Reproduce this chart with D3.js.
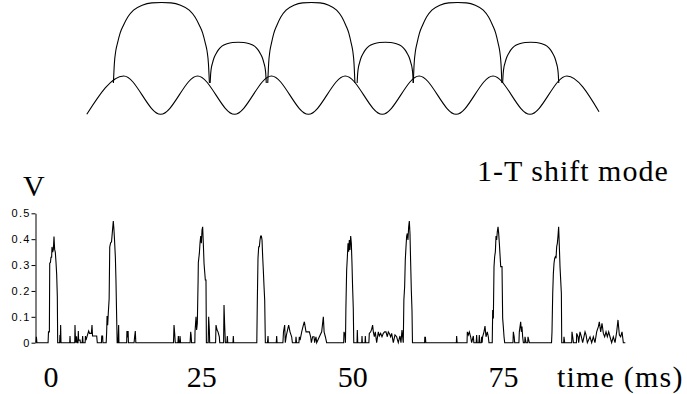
<!DOCTYPE html>
<html>
<head>
<meta charset="utf-8">
<script src="https://cdn.jsdelivr.net/npm/d3@7"></script>
<style>
  html, body { margin: 0; padding: 0; background: #fff; }
  svg { display: block; }
  .serif { font-family: "Liberation Serif", "Times New Roman", Times, "DejaVu Serif", serif; }
  .sans { font-family: "Liberation Sans", Arial, Helvetica, sans-serif; }
</style>
</head>
<body>
<div id="chart"></div>
<script>
// ---------------- DATA ----------------
// Top schematic: sinusoidal wave (in periods T) - extremes
const waveT = [0, 0.5, 1, 1.5, 2, 2.5, 3, 3.5, 4, 4.5, 5, 5.5, 6, 6.5, 6.935];
const waveV = [0, 1, 0, 1, 0, 1, 0, 1, 0, 1, 0, 1, 0, 1, 0.068];

// Top schematic: arcs (centre in T, half width in T, top height in wave units)
const arcCenters = [1.01, 2.05, 3.04, 4.04, 5.02, 6.01];
const arcHalfWidths = [0.65, 0.38, 0.59, 0.38, 0.60, 0.38];
const arcTops = [2.92, 1.88, 2.92, 1.88, 2.92, 1.88];
const arcBase = 0.817;
// arc profile: fraction of half width -> fraction of height
const arcProfileX = [0, 0.2, 0.4, 0.58, 0.7, 0.79, 0.86, 0.917, 0.95, 0.98, 1.0];
const arcProfileY = [1.0, 0.995, 0.965, 0.905, 0.82, 0.718, 0.62, 0.49, 0.40, 0.24, 0];

// Bottom: measured signal, time (ms) and voltage (V)
const sigT = [
 -3.04,-2.97,-2.88,-1.0,-0.93,-0.78,-0.72,-0.6,-0.51,-0.4,-0.34,-0.22,-0.11,0,0.11,0.22,0.34,0.45,0.56,0.62,
 0.95,1.0,1.06,1.12,1.18,
 2.65,2.7,2.75,
 3.5,3.54,3.6,3.7,3.8,3.9,4.05,4.1,4.15,4.4,4.45,
 4.75,4.83,4.9,
 5.25,5.3,5.4,5.6,5.85,6.0,6.3,6.41,6.5,7.2,7.3,
 8.0,8.05,8.2,8.25,
 8.8,8.88,8.95,9.05,9.15,9.3,9.4,9.55,9.7,9.85,10.0,10.1,10.2,10.35,10.45,10.57,10.65,
 10.8,10.85,10.9,10.95,
 12.25,12.3,12.4,12.5,12.55,
 13.5,13.6,13.71,13.8,
 20.15,20.24,20.35,20.45,
 20.9,20.97,21.05,21.2,21.25,21.35,
 22.95,23.05,23.12,23.2,
 23.75,23.78,23.95,24.05,24.17,24.3,24.34,24.51,24.62,24.74,24.85,24.96,25.07,25.18,25.3,25.41,25.52,25.63,25.7,
 26.0,26.08,26.2,26.25,
 27.25,27.32,27.5,27.66,27.88,27.95,
 28.6,28.67,28.78,28.9,
 29.15,29.23,29.3,
 30.18,30.24,30.3,
 34.2,34.29,34.4,34.52,34.63,34.74,34.85,34.97,35.08,35.19,35.3,35.42,35.53,35.64,
 36.0,36.09,36.15,
 37.48,37.55,37.62,
 38.6,38.7,38.9,39.0,39.2,39.57,39.8,40.08,40.2,
 40.75,40.81,40.9,
 41.3,41.37,41.5,41.77,42.05,42.22,42.5,42.8,43.06,43.28,43.4,43.62,43.85,43.95,44.18,44.3,44.75,45.14,45.42,45.55,45.76,45.98,
 48.85,48.9,49.07,49.15,49.22,49.35,49.46,49.58,49.69,49.8,49.91,50.03,50.14,50.25,50.36,50.47,50.55,
 51.1,51.15,51.22,
 51.9,51.94,52.0,
 52.45,52.5,52.56,
 53.1,53.17,53.4,53.57,53.73,53.85,54.02,54.18,54.41,54.69,54.86,55.08,55.31,55.53,55.76,55.98,56.21,56.38,56.55,56.77,56.94,57.22,57.5,57.78,58.06,58.34,58.51,58.68,58.79,58.9,
 59.0,59.13,59.24,59.36,59.47,59.58,59.69,59.81,59.92,60.03,60.14,60.26,60.37,60.45,
 62.5,62.53,62.6,62.63,62.7,
 67.85,67.9,67.98,
 69.65,69.7,69.87,70.04,70.26,70.43,70.71,70.8,
 71.2,71.27,71.35,
 71.65,71.72,71.8,72.05,72.12,72.2,72.28,72.51,72.68,72.85,73.07,73.24,73.35,
 73.9,73.98,74.09,74.2,74.31,74.43,74.54,74.65,74.76,74.88,74.99,75.1,75.33,75.55,75.66,75.77,75.89,76.0,
 77.4,77.46,77.6,77.69,
 78.4,78.47,78.7,78.81,78.92,79.03,79.15,
 79.38,79.43,79.6,
 79.88,79.93,80.16,
 83.9,83.98,84.1,84.21,84.32,84.43,84.54,84.66,84.77,84.88,84.99,85.1,85.22,85.33,85.56,85.62,
 85.95,86.0,86.12,
 87.3,87.35,87.47,87.6,
 88.1,88.14,88.37,88.48,88.7,88.93,89.15,89.55,89.72,89.94,
 90.39,90.67,90.95,91.23,91.51,91.8,91.96,92.19,92.41,92.64,92.86,93.09,93.31,93.54,93.76,94.04,94.32,94.61,94.89,95.11,95.34,95.56,95.79,96.01,96.35
];
const sigV = [
 0,0.023,0,0,0.042,0.042,0.307,0.31,0.33,0.33,0.37,0.35,0.36,0.41,0.36,0.35,0.31,0.265,0.18,0,
 0,0.03,0,0.068,0,
 0,0.026,0,
 0,0.068,0.025,0,0.025,0,0,0.045,0.01,0.01,0,
 0,0.026,0,
 0,0.026,0.01,0.026,0.045,0.036,0.036,0.068,0.026,0.026,0,
 0,0.026,0.026,0,
 0,0.042,0.103,0.068,0.113,0.17,0.37,0.386,0.39,0.43,0.47,0.44,0.40,0.33,0.24,0.094,0,
 0,0.036,0.068,0,
 0,0.045,0.02,0.045,0,
 0,0.023,0.045,0,
 0,0.068,0.036,0,
 0,0.026,0,0,0.026,0,
 0,0.042,0.03,0,
 0,0.042,0.1,0.049,0.075,0.24,0.31,0.345,0.384,0.412,0.384,0.435,0.448,0.384,0.307,0.274,0.242,0.242,0,
 0,0.1,0.049,0,
 0,0.068,0.049,0.042,0.023,0,
 0,0.146,0.068,0,
 0,0.026,0,
 0,0.026,0,
 0,0.165,0.326,0.371,0.371,0.397,0.412,0.412,0.397,0.332,0.28,0.216,0.165,0,
 0,0.026,0,
 0,0.026,0,
 0,0.042,0.068,0,0.03,0.068,0.042,0.023,0,
 0,0.023,0,
 0,0.023,0.01,0.042,0.068,0.081,0.042,0.042,0.042,0.023,0,0.023,0.023,0,0.023,0,0.023,0.042,0.1,0.042,0.023,0,
 0,0.042,0.03,0,0.126,0.28,0.326,0.384,0.352,0.397,0.358,0.412,0.384,0.307,0.21,0.133,0,
 0,0.049,0,
 0,0.026,0,
 0,0.026,0,
 0,0.036,0.042,0.052,0.068,0.042,0.023,0.042,0,0.042,0.026,0.036,0.023,0.036,0.042,0.042,0.023,0.042,0.036,0.023,0.036,0,0.03,0.023,0,0.026,0,0.049,0.023,0,
 0.165,0.216,0.32,0.371,0.412,0.422,0.397,0.448,0.47,0.422,0.313,0.2,0.126,0,
 0,0.023,0.015,0.023,0,
 0,0.026,0,
 0,0.042,0.03,0.042,0.023,0,0.026,0,
 0,0.03,0,
 0,0.03,0,0,0.023,0,0.023,0.042,0.064,0.023,0.042,0.023,0,
 0,0.126,0.094,0.294,0.332,0.352,0.412,0.397,0.429,0.448,0.422,0.384,0.294,0.294,0.094,0.062,0.023,0,
 0,0.042,0.023,0,
 0,0.042,0.081,0.042,0.062,0.023,0,
 0,0.023,0,
 0,0.023,0,
 0,0.042,0.19,0.268,0.307,0.326,0.332,0.326,0.371,0.384,0.412,0.448,0.371,0.294,0.19,0,
 0,0.023,0,
 0,0.042,0.023,0,
 0,0.036,0.023,0,0.042,0.023,0,0.042,0.03,0,
 0.023,0,0.023,0,0.042,0.062,0.081,0.042,0.075,0.036,0.023,0.042,0.023,0.042,0.023,0,0.023,0,0.042,0.088,0.03,0.023,0.042,0,0
];

const yTicks = [0, 0.1, 0.2, 0.3, 0.4, 0.5];
const xTicks = [0, 25, 50, 75];
const xTitle = "time (ms)";
const yTitle = "V";
const modeLabel = "1-T shift mode";

// ---------------- DRAW ----------------
const W = 687, H = 394;
const svg = d3.select("#chart").append("svg")
  .attr("width", W).attr("height", H)
  .attr("viewBox", `0 0 ${W} ${H}`);
svg.append("rect").attr("width", W).attr("height", H).attr("fill", "#fff");

// Top schematic scales
const tx = d3.scaleLinear().domain([0, 1]).range([86.8, 160.66]);
const ty = d3.scaleLinear().domain([0, 1]).range([114.3, 76]);

const wave = waveT.map((t, i) => [t, waveV[i]]);
svg.append("path")
  .attr("d", d3.line().x(d => tx(d[0])).y(d => ty(d[1])).curve(d3.curveMonotoneX)(wave))
  .attr("fill", "none").attr("stroke", "#000").attr("stroke-width", 1.1);

arcCenters.forEach((c, i) => {
  const hw = arcHalfWidths[i], top = arcTops[i];
  const pts = [];
  for (let k = arcProfileX.length - 1; k >= 0; k--) pts.push([c - hw * arcProfileX[k], arcBase + (top - arcBase) * arcProfileY[k]]);
  for (let k = 1; k < arcProfileX.length; k++) pts.push([c + hw * arcProfileX[k], arcBase + (top - arcBase) * arcProfileY[k]]);
  svg.append("path")
    .attr("d", d3.line().x(d => tx(d[0])).y(d => ty(d[1])).curve(d3.curveMonotoneX)(pts))
    .attr("fill", "none").attr("stroke", "#000").attr("stroke-width", 1.1);
});

// Bottom chart scales
const x = d3.scaleLinear().domain([0, 100]).range([54, 647]);
const y = d3.scaleLinear().domain([0, 0.5]).range([342.7, 213.3]);
// tick labels in the source figure were placed slightly off the data grid
const xLabel = d3.scaleLinear().domain([0, 75]).range([51, 503.5]);

const gy = svg.append("g").attr("transform", "translate(35.5,0)")
  .call(d3.axisLeft(y).tickValues(yTicks).tickSize(4).tickSizeOuter(0).tickPadding(1)
    .tickFormat(d => d === 0 ? "0" : d3.format(".1f")(d)));
gy.attr("font-family", null).attr("font-size", null);
gy.selectAll("path, line").attr("stroke", "#000").attr("stroke-width", 1);
gy.selectAll("text").attr("class", "sans").style("font-size", "11px")
  .attr("letter-spacing", 1.2).attr("fill", "#000");

const sig = sigT.map((t, i) => [t, sigV[i]]);
svg.append("path")
  .attr("d", d3.line().x(d => x(d[0])).y(d => y(d[1]))(sig))
  .attr("fill", "none").attr("stroke", "#000").attr("stroke-width", 1.1)
  .attr("stroke-linejoin", "miter");

// x tick labels
svg.append("g").selectAll("text").data(xTicks).join("text")
  .attr("class", "serif")
  .attr("x", d => xLabel(d)).attr("y", 387)
  .attr("text-anchor", "middle")
  .style("font-size", "30px")
  .text(d => d);

svg.append("text").attr("class", "serif").attr("x", 557).attr("y", 387)
  .style("font-size", "30px").attr("letter-spacing", 1.2)
  .text(xTitle);

svg.append("text").attr("class", "serif").attr("x", 23).attr("y", 196)
  .style("font-size", "30px")
  .text(yTitle);

svg.append("text").attr("class", "serif").attr("x", 477).attr("y", 181)
  .style("font-size", "30px").attr("letter-spacing", 1.0)
  .text(modeLabel);
</script>
</body>
</html>
